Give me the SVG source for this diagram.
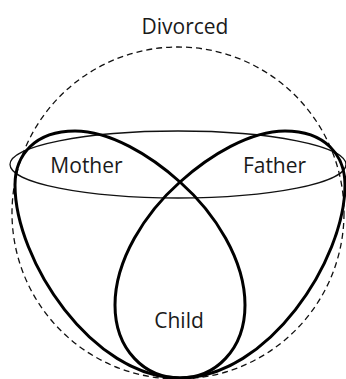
<svg xmlns="http://www.w3.org/2000/svg" width="346" height="379" viewBox="0 0 346 379">
  <style>
    .lbl { font-family: "Open Sans", "Liberation Sans", sans-serif; font-size: 21px; fill: #1a1a1a; text-anchor: middle; }
    .thin { fill: none; stroke: #111; stroke-width: 1.3; }
    .dash { fill: none; stroke: #111; stroke-width: 1.3; stroke-dasharray: 6 4; }
    .bold { fill: none; stroke: #000; stroke-width: 3; }
  </style>
  <defs>
    <path id="leaf" d="M180,378 C92,378 15,260 15,185 C15,155 35,131 75,131 C110,131 150,155 180,182 C215,213 245,260 245,305 C245,350 215,378 180,378 Z"/>
  </defs>
  <rect width="346" height="379" fill="#fff"/>
  <g id="divorced">
    <circle class="dash" cx="178" cy="213" r="166"/>
    <text class="lbl" x="185" y="34">Divorced</text>
  </g>
  <g id="household">
    <ellipse class="thin" cx="178" cy="164.5" rx="168" ry="33.5"/>
  </g>
  <g id="mother">
    <use href="#leaf" class="bold"/>
    <text class="lbl" x="86.5" y="173">Mother</text>
  </g>
  <g id="father">
    <use href="#leaf" class="bold" transform="translate(360,0) scale(-1,1)"/>
    <text class="lbl" x="274.5" y="173">Father</text>
  </g>
  <g id="child">
    <text class="lbl" x="179" y="328">Child</text>
  </g>
</svg>
